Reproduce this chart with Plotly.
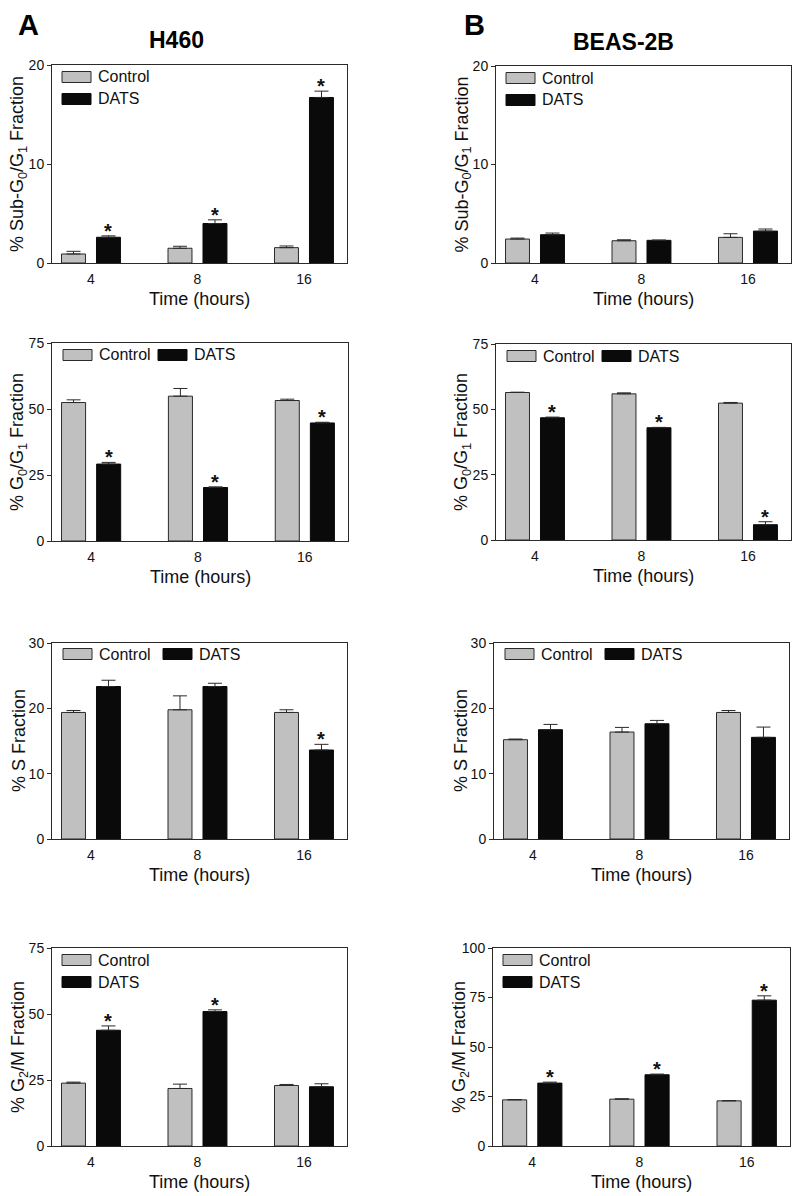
import plotly.graph_objects as go

# the page body puts the figure 8px in from the top-left corner, so positions
# below are screen pixels and the figure is sized to end at the window edge
PAGE_W, PAGE_H = 800, 1196
PAD = 8
W, H = PAGE_W - PAD, PAGE_H - PAD
FONT = 'Liberation Sans, Arial, sans-serif'

hours = ['4', '8', '16']

# H460 (panel A)
a_sub_ctrl = [0.91, 1.49, 1.55]
a_sub_ctrl_err = [0.27, 0.20, 0.17]
a_sub_dats = [2.60, 3.99, 16.72]
a_sub_dats_err = [0.14, 0.37, 0.64]
a_sub_sig = [1, 1, 1]

a_g1_ctrl = [52.45, 54.86, 53.21]
a_g1_ctrl_err = [1.02, 2.91, 0.51]
a_g1_dats = [29.14, 20.27, 44.72]
a_g1_dats_err = [0.63, 0.25, 0.26]
a_g1_sig = [1, 1, 1]

a_s_ctrl = [19.37, 19.78, 19.37]
a_s_ctrl_err = [0.30, 2.13, 0.41]
a_s_dats = [23.34, 23.34, 13.62]
a_s_dats_err = [0.96, 0.50, 0.87]
a_s_sig = [0, 0, 1]

a_g2_ctrl = [23.82, 21.79, 22.93]
a_g2_ctrl_err = [0.38, 1.65, 0.38]
a_g2_dats = [43.84, 50.93, 22.43]
a_g2_dats_err = [1.64, 0.64, 1.14]
a_g2_sig = [1, 1, 0]

# BEAS-2B (panel B)
b_sub_ctrl = [2.43, 2.26, 2.60]
b_sub_ctrl_err = [0.10, 0.10, 0.37]
b_sub_dats = [2.87, 2.30, 3.24]
b_sub_dats_err = [0.17, 0.03, 0.21]
b_sub_sig = [0, 0, 0]

b_g1_ctrl = [56.44, 55.93, 52.37]
b_g1_ctrl_err = [0.13, 0.38, 0.26]
b_g1_dats = [46.78, 42.96, 5.85]
b_g1_dats_err = [0.25, 0.13, 1.14]
b_g1_sig = [1, 1, 1]

b_s_ctrl = [15.20, 16.37, 19.37]
b_s_ctrl_err = [0.10, 0.71, 0.30]
b_s_dats = [16.73, 17.64, 15.56]
b_s_dats_err = [0.81, 0.51, 1.57]
b_s_sig = [0, 0, 0]

b_g2_ctrl = [23.31, 23.65, 22.80]
b_g2_ctrl_err = [0.17, 0.17, 0.17]
b_g2_dats = [31.76, 35.98, 73.65]
b_g2_dats_err = [0.50, 0.34, 2.19]
b_g2_sig = [1, 1, 1]

t_sub = '% Sub-G<sub>0</sub>/G<sub>1</sub> Fraction'
t_g1 = '% G<sub>0</sub>/G<sub>1</sub> Fraction'
t_s = '% S Fraction'
t_g2 = '% G<sub>2</sub>/M Fraction'

# (ctrl, ctrl_err, dats, dats_err, sig, ytitle, yticks, box in px, legend layout)
panels = [
    (a_sub_ctrl, a_sub_ctrl_err, a_sub_dats, a_sub_dats_err, a_sub_sig, t_sub, [0, 10, 20], (52, 65, 347, 263), 'v'),
    (b_sub_ctrl, b_sub_ctrl_err, b_sub_dats, b_sub_dats_err, b_sub_sig, t_sub, [0, 10, 20], (496, 66, 791, 263), 'v'),
    (a_g1_ctrl, a_g1_ctrl_err, a_g1_dats, a_g1_dats_err, a_g1_sig, t_g1, [0, 25, 50, 75], (52, 343, 348, 541), 'h'),
    (b_g1_ctrl, b_g1_ctrl_err, b_g1_dats, b_g1_dats_err, b_g1_sig, t_g1, [0, 25, 50, 75], (496, 344, 791, 540), 'h'),
    (a_s_ctrl, a_s_ctrl_err, a_s_dats, a_s_dats_err, a_s_sig, t_s, [0, 10, 20, 30], (52, 643, 347, 839), 'h2'),
    (b_s_ctrl, b_s_ctrl_err, b_s_dats, b_s_dats_err, b_s_sig, t_s, [0, 10, 20, 30], (494, 643, 789, 839), 'h2'),
    (a_g2_ctrl, a_g2_ctrl_err, a_g2_dats, a_g2_dats_err, a_g2_sig, t_g2, [0, 25, 50, 75], (52, 948, 347, 1146), 'v'),
    (b_g2_ctrl, b_g2_ctrl_err, b_g2_dats, b_g2_dats_err, b_g2_sig, t_g2, [0, 25, 50, 75, 100], (493, 948, 790, 1146), 'v'),
]

CTRL = '#c0c0c0'
DATS = '#0a0a0a'
LINE = '#2a2a2a'
TXT = '#111'


def fx(x):
    return (x - PAD) / W


def fy(y):
    return 1 - (y - PAD) / H


fig = go.Figure()
shapes = []
annots = []
pos = list(range(len(hours)))

for k, (ctrl, ce, dats, de, sig, ytitle, yticks, box, leg) in enumerate(panels):
    n = '' if k == 0 else str(k + 1)
    left, top, right, bottom = box
    fig.add_trace(go.Bar(x=pos, y=ctrl, xaxis='x' + n, yaxis='y' + n, name='Control',
                         marker=dict(color=CTRL, line=dict(color=LINE, width=1)),
                         error_y=dict(type='data', symmetric=False, array=ce, arrayminus=[0] * len(ce),
                                      color=LINE, thickness=1, width=7),
                         showlegend=False))
    fig.add_trace(go.Bar(x=pos, y=dats, xaxis='x' + n, yaxis='y' + n, name='DATS',
                         marker=dict(color=DATS, line=dict(color=DATS, width=1)),
                         error_y=dict(type='data', symmetric=False, array=de, arrayminus=[0] * len(de),
                                      color=LINE, thickness=1, width=7),
                         showlegend=False))
    fig.layout['xaxis' + n] = dict(
        domain=[fx(left), fx(right)], anchor='y' + n, range=[-0.366, 2.404], automargin=False,
        tickvals=pos, ticktext=hours, ticks='', ticklabelstandoff=3, showline=True, mirror=True,
        linecolor=LINE, linewidth=1, showgrid=False, zeroline=False,
        tickfont=dict(family=FONT, size=14, color=TXT))
    fig.layout['yaxis' + n] = dict(
        domain=[fy(bottom), fy(top)], anchor='x' + n, range=[0, yticks[-1]], automargin=False,
        tickvals=yticks, ticks='outside', ticklen=4, tickcolor=LINE, showline=True, mirror=True,
        linecolor=LINE, linewidth=1, showgrid=False, zeroline=False,
        tickfont=dict(family=FONT, size=14, color=TXT))

    # axis titles
    annots.append(dict(x=fx((left + right) / 2), y=fy(bottom + 36), xref='paper', yref='paper',
                       text='Time (hours)', showarrow=False, xanchor='center', yanchor='middle',
                       font=dict(family=FONT, size=18, color=TXT)))
    annots.append(dict(x=fx(left - 33), y=fy((top + bottom) / 2), xref='paper', yref='paper',
                       text=ytitle, textangle=-90, showarrow=False, xanchor='center', yanchor='middle',
                       font=dict(family=FONT, size=18, color=TXT)))

    # asterisks over significant DATS bars
    for i, s in enumerate(sig):
        if s:
            annots.append(dict(x=pos[i] + 0.164, y=dats[i] + de[i], xref='x' + n, yref='y' + n,
                               text='<b>*</b>', showarrow=False, yanchor='middle', yshift=5,
                               font=dict(family=FONT, size=20, color=TXT)))

    # legend drawn by hand: wide swatches like the original
    if leg == 'v':
        items = [('Control', CTRL, 10, 12), ('DATS', DATS, 10, 34)]
    elif leg == 'h':
        items = [('Control', CTRL, 11, 12), ('DATS', DATS, 106, 12)]
    else:
        items = [('Control', CTRL, 11, 11), ('DATS', DATS, 111, 11)]
    for label, col, dx, dy in items:
        shapes.append(dict(type='rect', xref='paper', yref='paper',
                           x0=fx(left + dx), x1=fx(left + dx + 29),
                           y0=fy(top + dy + 5.5), y1=fy(top + dy - 5.5),
                           fillcolor=col, line=dict(color=LINE if col == CTRL else DATS, width=1)))
        annots.append(dict(x=fx(left + dx + 34), y=fy(top + dy), xref='paper', yref='paper',
                           text=label, showarrow=False, xanchor='left', yanchor='middle',
                           font=dict(family=FONT, size=16, color=TXT)))

# panel letters (hung from the top edge) and cell line titles
annots += [
    dict(x=fx(17), text='<b>A</b>'),
    dict(x=fx(463), text='<b>B</b>'),
]
for a in annots[-2:]:
    a.update(y=1, xref='paper', yref='paper', showarrow=False, xanchor='left', yanchor='top',
             borderpad=0, font=dict(family=FONT, size=29, color='#000'))
annots += [
    dict(x=fx(176), y=fy(40), text='<b>H460</b>'),
    dict(x=fx(623), y=fy(42), text='<b>BEAS-2B</b>'),
]
for a in annots[-2:]:
    a.update(xref='paper', yref='paper', showarrow=False, xanchor='center', yanchor='middle',
             font=dict(family=FONT, size=23, color='#000'))

fig.update_layout(
    width=W, height=H, margin=dict(l=0, r=0, t=0, b=0),
    paper_bgcolor='white', plot_bgcolor='white',
    barmode='group', bargap=0.343, bargroupgap=0.315,
    shapes=shapes, annotations=annots, showlegend=False,
)

fig.write_html('out.html')
